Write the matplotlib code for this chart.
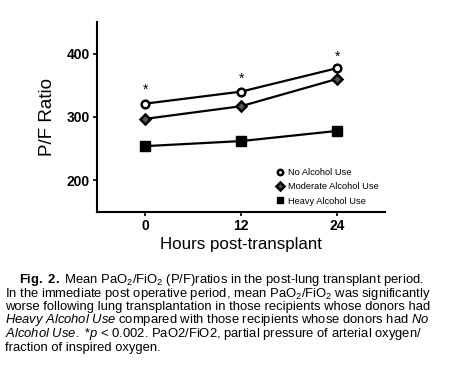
import matplotlib
matplotlib.use('Agg')
import matplotlib.pyplot as plt

plt.rcParams['font.family'] = ['Liberation Sans', 'DejaVu Sans']
plt.rcParams['mathtext.fontset'] = 'custom'
plt.rcParams['mathtext.rm'] = 'Liberation Sans'
plt.rcParams['mathtext.it'] = 'Liberation Sans:italic'
plt.rcParams['mathtext.bf'] = 'Liberation Sans:bold'

# data
hours = [0, 12, 24]
no_alcohol = [321, 340, 377]
moderate_alcohol = [297, 317, 360]
heavy_alcohol = [254, 262, 278]
star_y = [343, 361, 395]

fig = plt.figure(figsize=(4.5, 3.78), dpi=100)
ax = fig.add_axes([0.2156, 0.439, 0.64, 0.503])

ax.plot(hours, no_alcohol, color='black', lw=1.6, marker='o', ms=5.5,
        mfc='white', mec='black', mew=1.8, label='No Alcohol Use')
ax.plot(hours, moderate_alcohol, color='black', lw=1.6, marker='D', ms=5.2,
        mfc='#555555', mec='black', mew=1.8, label='Moderate Alcohol Use')
ax.plot(hours, heavy_alcohol, color='black', lw=1.6, marker='s', ms=6.8,
        mfc='black', mec='black', label='Heavy Alcohol Use')

for x, y in zip(hours, star_y):
    ax.text(x, y, '*', ha='center', va='center', fontsize=10)

ax.set_xlim(-6, 30)
ax.set_ylim(150, 450)
ax.set_xticks(hours)
ax.set_yticks([200, 300, 400])
ax.tick_params(labelsize=10, width=1.2, length=3, pad=2)
for lab in ax.get_xticklabels() + ax.get_yticklabels():
    lab.set_fontweight('bold')
for s in ['top', 'right']:
    ax.spines[s].set_visible(False)
for s in ['left', 'bottom']:
    ax.spines[s].set_linewidth(1.5)

ax.set_xlabel('Hours post-transplant', fontsize=12.2, labelpad=3)
ax.set_ylabel('P/F Ratio', fontsize=13.5, labelpad=8)

leg = ax.legend(loc='lower right', bbox_to_anchor=(1.0, 0.0), frameon=False,
                fontsize=6.7, markerscale=0.7, handlelength=0.6,
                handletextpad=0.5, labelspacing=0.55, borderaxespad=0.3)
for h in leg.legend_handles:
    h.set_linestyle('none')

caption = [
    (0.042, r'$\mathbf{Fig.\ 2.}$ Mean PaO$_2$/FiO$_2$ (P/F)ratios in the post-lung transplant period.'),
    (0.011, r'In the immediate post operative period, mean PaO$_2$/FiO$_2$ was significantly'),
    (0.011, 'worse following lung transplantation in those recipients whose donors had'),
    (0.011, r'$\mathit{Heavy\ Alcohol\ Use}$ compared with those recipients whose donors had $\mathit{No}$'),
    (0.011, r'$\mathit{Alcohol\ Use.}$ *$\mathit{p}$ < 0.002. PaO2/FiO2, partial pressure of arterial oxygen/'),
    (0.011, 'fraction of inspired oxygen.'),
]
ys = [280, 293.5, 307, 320.5, 334, 347.5]
for (x, line), y in zip(caption, ys):
    fig.text(x, 1 - y / 378, line, ha='left', va='center', fontsize=9.4)

fig.savefig('out.png', dpi=100)
